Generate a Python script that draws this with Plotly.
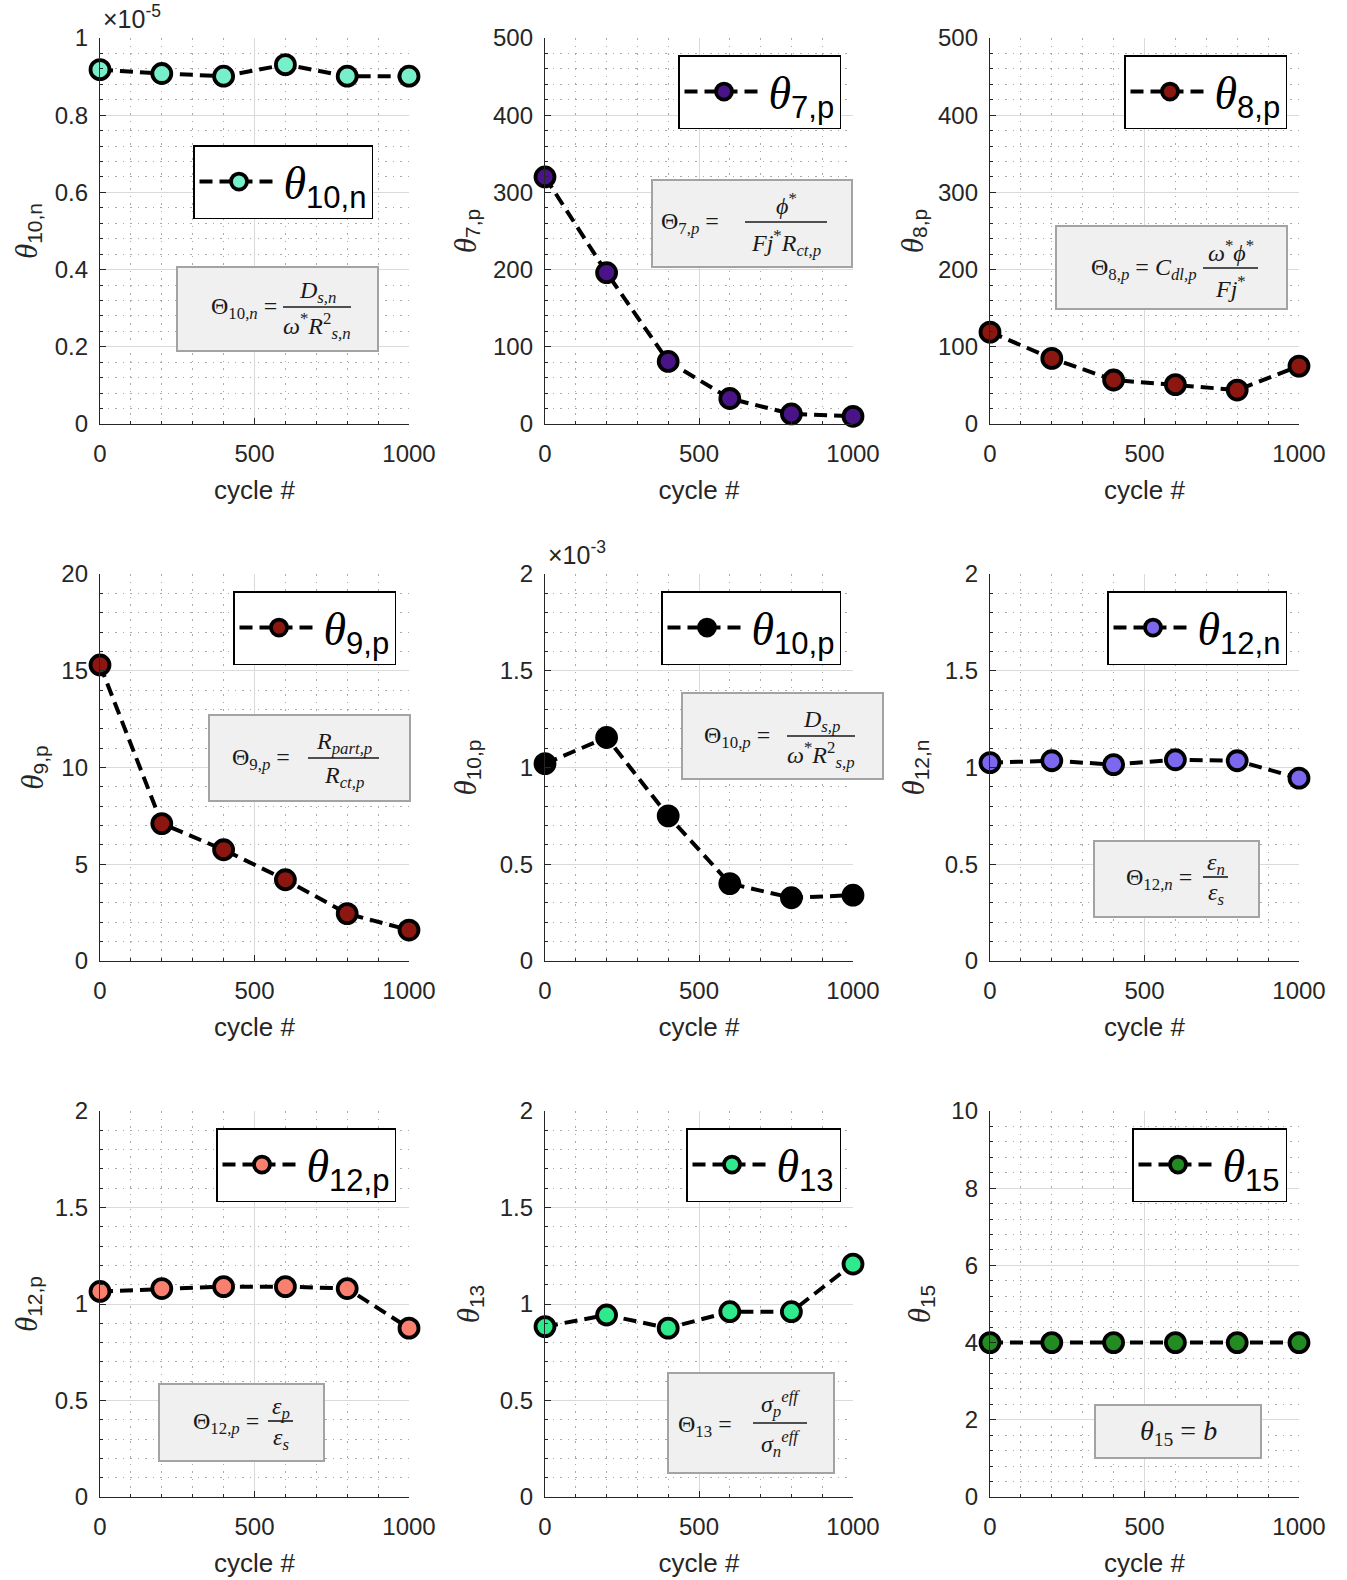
import plotly.graph_objects as go

W, H = 1347, 1580

# ---------------- data ----------------
cycles = [0, 200, 400, 600, 800, 1000]

theta_10n = [0.918e-5, 0.908e-5, 0.901e-5, 0.931e-5, 0.901e-5, 0.901e-5]
theta_7p = [320, 196, 81, 33, 13, 10]
theta_8p = [119, 85, 57, 51, 44, 75]
theta_9p = [15.3, 7.1, 5.75, 4.2, 2.45, 1.6]
theta_10p = [1.02e-3, 1.155e-3, 0.75e-3, 0.40e-3, 0.327e-3, 0.34e-3]
theta_12n = [1.025, 1.035, 1.015, 1.04, 1.035, 0.945]
theta_12p = [1.065, 1.08, 1.09, 1.09, 1.08, 0.875]
theta_13 = [0.883, 0.943, 0.875, 0.96, 0.96, 1.207]
theta_15 = [4, 4, 4, 4, 4, 4]

series = [theta_10n, theta_7p, theta_8p, theta_9p, theta_10p,
          theta_12n, theta_12p, theta_13, theta_15]
subscripts = ["10,n", "7,p", "8,p", "9,p", "10,p", "12,n", "12,p", "13", "15"]
marker_colors = ["#78EFCB", "#4A1488", "#8C1711", "#8C1711", "#000000",
                 "#7B68EE", "#F9806F", "#2EEA8C", "#228B22"]

x_ticks = [0, 500, 1000]
x_tick_labels = ["0", "500", "1000"]

y_ticks_10n = [0, 0.2e-5, 0.4e-5, 0.6e-5, 0.8e-5, 1.0e-5]
y_labels_10n = ["0", "0.2", "0.4", "0.6", "0.8", "1"]
y_ticks_500 = [0, 100, 200, 300, 400, 500]
y_labels_500 = ["0", "100", "200", "300", "400", "500"]
y_ticks_20 = [0, 5, 10, 15, 20]
y_labels_20 = ["0", "5", "10", "15", "20"]
y_ticks_10p = [0, 0.5e-3, 1.0e-3, 1.5e-3, 2.0e-3]
y_labels_10p = ["0", "0.5", "1", "1.5", "2"]
y_ticks_2 = [0, 0.5, 1, 1.5, 2]
y_labels_2 = ["0", "0.5", "1", "1.5", "2"]
y_ticks_10 = [0, 2, 4, 6, 8, 10]
y_labels_10 = ["0", "2", "4", "6", "8", "10"]

y_tick_sets = [(y_ticks_10n, y_labels_10n), (y_ticks_500, y_labels_500),
               (y_ticks_500, y_labels_500), (y_ticks_20, y_labels_20),
               (y_ticks_10p, y_labels_10p), (y_ticks_2, y_labels_2),
               (y_ticks_2, y_labels_2), (y_ticks_2, y_labels_2),
               (y_ticks_10, y_labels_10)]
y_minor_steps = [0.04e-5, 20, 20, 1, 0.1e-3, 0.1, 0.1, 0.1, 0.4]
exponents = ["-5", None, None, None, "-3", None, None, None, None]

# ---------------- layout geometry (pixels) ----------------
col_px = [(100, 409), (545, 853), (990, 1299)]
row_px = [(38, 424), (574, 961), (1111, 1497)]
legend_corner = [(373, 145), (841, 55), (1287, 55),
                 (396, 591), (841, 591), (1287, 591),
                 (396, 1128), (841, 1128), (1287, 1128)]
ytitle_standoff = [10, 10, 8, 11, 16, 13, 10, 13, 14]


def pxx(x):
    return x / W


def pxy(y):
    return 1 - y / H


SERIF = "Liberation Serif"
SANS = "Liberation Sans"
TXT = "#262626"


def theta_label(sub, base_px, sub_px):
    return (f"<span style='font-family:{SERIF};font-size:{base_px}px'><i>θ</i></span>"
            f"<sub><span style='font-size:{sub_px}px'>{sub}</span></sub>")


fig = go.Figure()
layout = dict(
    width=W, height=H,
    margin=dict(l=0, r=0, t=0, b=0, autoexpand=False),
    paper_bgcolor="white", plot_bgcolor="white",
    showlegend=True,
    annotations=[], shapes=[],
)

for i in range(9):
    r, c = divmod(i, 3)
    n = i + 1
    xa = "x" if n == 1 else f"x{n}"
    ya = "y" if n == 1 else f"y{n}"
    lg = "legend" if n == 1 else f"legend{n}"
    yt, yl = y_tick_sets[i]

    fig.add_trace(go.Scatter(
        x=cycles, y=series[i], xaxis=xa, yaxis=ya, legend=lg,
        mode="lines+markers",
        name=theta_label(subscripts[i], 46, 31),
        line=dict(color="black", width=4, dash="13px,7px"),
        marker=dict(size=19, color=marker_colors[i],
                    line=dict(color="black", width=3.8)),
        cliponaxis=False,
    ))

    common = dict(
        ticks="inside", ticklen=6, tickwidth=1, tickcolor=TXT,
        showline=True, linecolor=TXT, linewidth=1.3,
        showgrid=True, gridcolor="#dadada", gridwidth=1,
        zeroline=False, fixedrange=True, automargin=False,
        tickfont=dict(family=SANS, size=24, color=TXT),
    )
    x0, x1 = col_px[c]
    y0, y1 = row_px[r]
    layout["xaxis" if n == 1 else f"xaxis{n}"] = dict(
        common,
        domain=[pxx(x0), pxx(x1)], anchor=ya, range=[0, 1000],
        tickmode="array", tickvals=x_ticks, ticktext=x_tick_labels,
        ticklabelstandoff=8,
        minor=dict(tickmode="linear", tick0=0, dtick=100, ticks="inside",
                   ticklen=3, tickcolor=TXT, showgrid=True,
                   gridcolor="#a9a9a9", griddash="1.5px,6px", gridwidth=1),
        title=dict(text="cycle #", font=dict(family=SANS, size=26, color=TXT),
                   standoff=14),
    )
    layout["yaxis" if n == 1 else f"yaxis{n}"] = dict(
        common,
        domain=[pxy(y1), pxy(y0)], anchor=xa, range=[yt[0], yt[-1]],
        tickmode="array", tickvals=yt, ticktext=yl,
        ticklabelstandoff=6,
        minor=dict(tickmode="linear", tick0=0, dtick=y_minor_steps[i],
                   ticks="inside", ticklen=3, tickcolor=TXT, showgrid=True,
                   gridcolor="#a9a9a9", griddash="1.5px,6px", gridwidth=1),
        title=dict(text=theta_label(subscripts[i], 31, 21),
                   font=dict(family=SANS, size=22, color=TXT),
                   standoff=ytitle_standoff[i]),
    )
    lx, ly = legend_corner[i]
    layout[lg] = dict(
        x=pxx(lx), y=pxy(ly), xanchor="right", yanchor="top",
        xref="paper", yref="paper",
        bgcolor="white", bordercolor="black", borderwidth=1.5,
        font=dict(family=SANS, size=44, color="black"),
        itemwidth=79, itemclick=False, itemdoubleclick=False,
    )
    if exponents[i]:
        layout["annotations"].append(dict(
            x=pxx(x0 + 1), y=pxy(y0 - 3), xref="paper", yref="paper",
            xanchor="left", yanchor="bottom", showarrow=False,
            text=f"×10<sup>{exponents[i]}</sup>",
            font=dict(family=SANS, size=25, color=TXT),
        ))

# ---------------- formula boxes ----------------
formulas = [
    dict(box=(177, 267, 378, 351), lhs="Θ<sub>10,<i>n</i></sub> =", lhs_pos=(279, 308),
         bar=(283, 351, 307), num="<i>D</i><sub><i>s,n</i></sub>",
         den="<i>ω</i><sup>*</sup><i>R</i><sup>2</sup><sub><i>s,n</i></sub>", num_y=292, den_y=326),
    dict(box=(652, 180, 852, 267), lhs="Θ<sub>7,<i>p</i></sub> =", lhs_pos=(721, 223),
         bar=(745, 827, 222), num="<i>ϕ</i><sup>*</sup>",
         den="<i>Fj</i><sup>*</sup><i>R</i><sub><i>ct,p</i></sub>", num_y=204, den_y=243),
    dict(box=(1056, 226, 1287, 309), lhs="Θ<sub>8,<i>p</i></sub> = <i>C</i><sub><i>dl,p</i></sub>",
         lhs_pos=(1199, 269), bar=(1203, 1258, 268), num="<i>ω</i><sup>*</sup><i>ϕ</i><sup>*</sup>",
         den="<i>Fj</i><sup>*</sup>", num_y=251, den_y=287),
    dict(box=(209, 715, 410, 801), lhs="Θ<sub>9,<i>p</i></sub> =", lhs_pos=(292, 759),
         bar=(308, 379, 758), num="<i>R</i><sub><i>part,p</i></sub>",
         den="<i>R</i><sub><i>ct,p</i></sub>", num_y=743, den_y=777),
    dict(box=(682, 693, 883, 779), lhs="Θ<sub>10,<i>p</i></sub> =", lhs_pos=(772, 737),
         bar=(787, 855, 736), num="<i>D</i><sub><i>s,p</i></sub>",
         den="<i>ω</i><sup>*</sup><i>R</i><sup>2</sup><sub><i>s,p</i></sub>", num_y=721, den_y=755),
    dict(box=(1094, 841, 1259, 917), lhs="Θ<sub>12,<i>n</i></sub> =", lhs_pos=(1194, 879),
         bar=(1203, 1228, 877), num="<i>ε</i><sub><i>n</i></sub>",
         den="<i>ε</i><sub><i>s</i></sub>", num_y=864, den_y=894),
    dict(box=(159, 1384, 324, 1461), lhs="Θ<sub>12,<i>p</i></sub> =", lhs_pos=(261, 1423),
         bar=(268, 293, 1421), num="<i>ε</i><sub><i>p</i></sub>",
         den="<i>ε</i><sub><i>s</i></sub>", num_y=1408, den_y=1439),
    dict(box=(668, 1373, 834, 1473), lhs="Θ<sub>13</sub> =", lhs_pos=(734, 1426),
         bar=(753, 807, 1423), num="<i>σ</i><sub><i>p</i></sub><sup><i>eff</i></sup>",
         den="<i>σ</i><sub><i>n</i></sub><sup><i>eff</i></sup>", num_y=1404, den_y=1444),
    dict(box=(1095, 1405, 1261, 1458), lhs="<i>θ</i><sub>15</sub> = <i>b</i>",
         lhs_pos=(1178, 1432), center=True, size=28),
]

for f in formulas:
    FF = dict(family=SERIF, size=f.get("size", 24), color="#1a1a1a")
    bx0, by0, bx1, by1 = f["box"]
    layout["shapes"].append(dict(
        type="rect", xref="paper", yref="paper",
        x0=pxx(bx0), x1=pxx(bx1), y0=pxy(by1), y1=pxy(by0),
        fillcolor="#f0f0f0", line=dict(color="#a3a3a3", width=2), layer="above",
    ))
    lxp, lyp = f["lhs_pos"]
    layout["annotations"].append(dict(
        x=pxx(lxp), y=pxy(lyp), xref="paper", yref="paper", showarrow=False,
        xanchor="center" if f.get("center") else "right", yanchor="middle",
        text=f["lhs"], font=FF,
    ))
    if "bar" in f:
        b0, b1, byy = f["bar"]
        layout["shapes"].append(dict(
            type="line", xref="paper", yref="paper",
            x0=pxx(b0), x1=pxx(b1), y0=pxy(byy), y1=pxy(byy),
            line=dict(color="#1a1a1a", width=1.6), layer="above",
        ))
        xc = (b0 + b1) / 2
        layout["annotations"].append(dict(
            x=pxx(xc), y=pxy(f["num_y"]), xref="paper", yref="paper", showarrow=False,
            xanchor="center", yanchor="middle", text=f["num"], font=FF))
        layout["annotations"].append(dict(
            x=pxx(xc), y=pxy(f["den_y"]), xref="paper", yref="paper", showarrow=False,
            xanchor="center", yanchor="middle", text=f["den"], font=FF))

fig.update_layout(**layout)
fig.write_html("out.html")
